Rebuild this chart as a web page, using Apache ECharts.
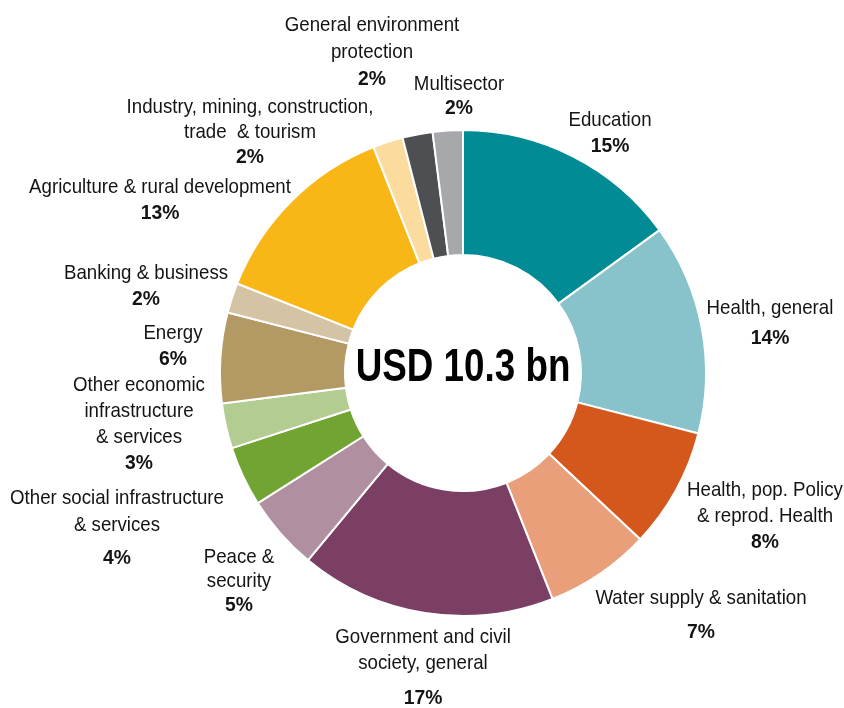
<!DOCTYPE html>
<html>
<head>
<meta charset="utf-8">
<script src="https://cdn.jsdelivr.net/npm/echarts@6/dist/echarts.min.js"></script>
<style>
html,body{margin:0;padding:0;background:#fff;}
#chart{width:844px;height:708px;}
</style>
</head>
<body>
<div id="chart"></div>
<script>
// ---- data ----
var categories = [
  "Education",
  "Health, general",
  "Health, pop. Policy\n& reprod. Health",
  "Water supply & sanitation",
  "Government and civil\nsociety, general",
  "Peace &\nsecurity",
  "Other social infrastructure\n& services",
  "Other economic\ninfrastructure\n& services",
  "Energy",
  "Banking & business",
  "Agriculture & rural development",
  "Industry, mining, construction,\ntrade  & tourism",
  "General environment\nprotection",
  "Multisector"
];
var shares = [15, 14, 8, 7, 17, 5, 4, 3, 6, 2, 13, 2, 2, 2];
var totalLabel = "USD 10.3 bn";

// ---- styling (kept apart from data) ----
var colors = ["#008B95","#88C3CC","#D4581C","#E9A07A","#7A3F63","#B08FA0","#72A434",
              "#B2CC91","#B39A65","#D4C4A5","#F9B617","#FCDC9E","#4D4F53","#A7A8AC"];
// label anchor: [centerX, topY, lineHeight, pctLineHeight]
var labelAnchors = [
  [610, 107, 26, 26],
  [770, 295, 26, 34],
  [765, 477, 26, 26],
  [701, 585, 26, 42],
  [423, 624, 26, 44],
  [239, 545, 24, 24],
  [117, 485, 27, 38],
  [139, 372, 26, 26],
  [173, 320, 26, 26],
  [146, 260, 26, 26],
  [160, 174, 26, 26],
  [250, 95, 25, 25],
  [372, 12, 27, 26],
  [459, 72, 24, 24]
];
var FONT = "'Liberation Sans', Arial, sans-serif";
var LABEL_SIZE = 21, NAME_SCALE = 0.89, PCT_SCALE = 0.92;
var TEXT_COLOR = '#141414';

var data = categories.map(function(c, i){
  return {name: c, value: shares[i], itemStyle: {color: colors[i]}};
});

// label texts as graphic elements (condensed via horizontal scale)
var graphics = [];
categories.forEach(function(c, i){
  var a = labelAnchors[i];
  var lines = c.split('\n');
  var yc = a[1] + a[2] / 2;
  lines.forEach(function(l, k){
    graphics.push({
      type: 'text', x: a[0], y: yc, scaleX: NAME_SCALE, silent: true,
      style: {text: l, align: 'center', verticalAlign: 'middle',
              font: 'normal ' + LABEL_SIZE + 'px ' + FONT, fill: TEXT_COLOR}
    });
    yc += a[2];
  });
  yc = yc - a[2] / 2 + a[3] / 2;
  graphics.push({
    type: 'text', x: a[0], y: yc, scaleX: PCT_SCALE, silent: true,
    style: {text: shares[i] + '%', align: 'center', verticalAlign: 'middle',
            font: 'bold ' + LABEL_SIZE + 'px ' + FONT, fill: TEXT_COLOR}
  });
});
graphics.push({
  type: 'text', x: 463, y: 368, scaleX: 0.8, silent: true,
  style: {text: totalLabel, align: 'center', verticalAlign: 'middle',
          font: 'bold 46px ' + FONT, fill: '#000'}
});

var chart = echarts.init(document.getElementById('chart'), null, {renderer: 'canvas'});
chart.setOption({
  animation: false,
  backgroundColor: '#fff',
  graphic: graphics,
  series: [{
    type: 'pie',
    center: [463, 373],
    radius: [118, 243],
    startAngle: 90,
    clockwise: true,
    avoidLabelOverlap: false,
    itemStyle: {borderColor: '#fff', borderWidth: 2},
    label: {show: false},
    labelLine: {show: false},
    emphasis: {disabled: true},
    data: data
  }]
});
</script>
</body>
</html>
